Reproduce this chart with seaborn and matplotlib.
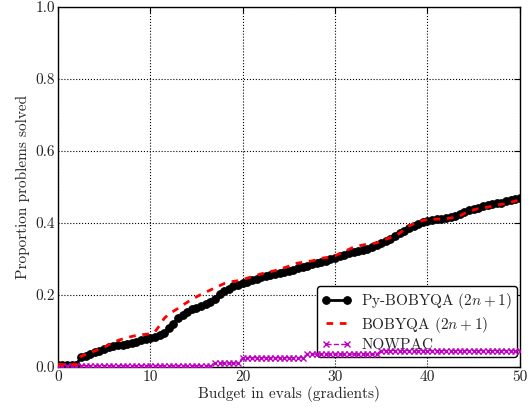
import numpy as np
import pandas as pd
import seaborn as sns
import matplotlib
matplotlib.use("Agg")
import matplotlib.pyplot as plt

# budget grid (in evals / gradients)
budget = [i * 0.5 for i in range(101)]

py_bobyqa = [
    0.007, 0.007, 0.007, 0.007, 0.007, 0.028, 0.032, 0.037, 0.042, 0.046,
    0.051, 0.055, 0.058, 0.060, 0.062, 0.065, 0.068, 0.071, 0.074, 0.077,
    0.080, 0.084, 0.089, 0.096, 0.108, 0.120, 0.135, 0.145, 0.153, 0.160,
    0.165, 0.170, 0.176, 0.182, 0.190, 0.203, 0.212, 0.218, 0.224, 0.229,
    0.233, 0.237, 0.242, 0.246, 0.250, 0.253, 0.256, 0.259, 0.262, 0.265,
    0.267, 0.271, 0.275, 0.279, 0.282, 0.285, 0.288, 0.291, 0.295, 0.299,
    0.304, 0.308, 0.312, 0.316, 0.319, 0.322, 0.325, 0.329, 0.334, 0.339,
    0.345, 0.351, 0.357, 0.364, 0.371, 0.378, 0.385, 0.393, 0.398, 0.402,
    0.405, 0.408, 0.410, 0.412, 0.414, 0.417, 0.420, 0.424, 0.430, 0.436,
    0.440, 0.443, 0.447, 0.450, 0.453, 0.455, 0.457, 0.460, 0.463, 0.467,
    0.469,
]

bobyqa = [
    0.007, 0.007, 0.007, 0.007, 0.007, 0.030, 0.035, 0.040, 0.045, 0.050,
    0.055, 0.062, 0.068, 0.074, 0.078, 0.082, 0.085, 0.088, 0.090, 0.091,
    0.093, 0.098, 0.115, 0.135, 0.147, 0.155, 0.163, 0.172, 0.180, 0.188,
    0.195, 0.202, 0.208, 0.214, 0.220, 0.226, 0.232, 0.235, 0.238, 0.240,
    0.243, 0.247, 0.251, 0.255, 0.259, 0.262, 0.265, 0.268, 0.272, 0.276,
    0.280, 0.286, 0.289, 0.291, 0.293, 0.295, 0.298, 0.302, 0.304, 0.306,
    0.309, 0.315, 0.321, 0.327, 0.333, 0.336, 0.339, 0.341, 0.343, 0.345,
    0.350, 0.355, 0.360, 0.365, 0.372, 0.382, 0.392, 0.398, 0.403, 0.407,
    0.410, 0.411, 0.411, 0.411, 0.412, 0.414, 0.416, 0.420, 0.427, 0.433,
    0.437, 0.440, 0.442, 0.444, 0.447, 0.450, 0.452, 0.454, 0.458, 0.461,
    0.464,
]

nowpac = [
    0.004, 0.004, 0.004, 0.004, 0.004, 0.004, 0.004, 0.004, 0.004, 0.004,
    0.004, 0.004, 0.004, 0.004, 0.004, 0.004, 0.004, 0.004, 0.004, 0.004,
    0.004, 0.004, 0.004, 0.004, 0.004, 0.004, 0.004, 0.004, 0.004, 0.004,
    0.004, 0.004, 0.004, 0.004, 0.011, 0.011, 0.011, 0.011, 0.011, 0.011,
    0.026, 0.026, 0.026, 0.026, 0.026, 0.026, 0.026, 0.026, 0.026, 0.026,
    0.026, 0.026, 0.026, 0.026, 0.036, 0.036, 0.036, 0.036, 0.036, 0.036,
    0.036, 0.036, 0.036, 0.036, 0.036, 0.036, 0.036, 0.036, 0.036, 0.036,
    0.046, 0.046, 0.046, 0.046, 0.046, 0.046, 0.046, 0.046, 0.046, 0.046,
    0.046, 0.046, 0.046, 0.046, 0.046, 0.046, 0.046, 0.046, 0.046, 0.046,
    0.046, 0.046, 0.046, 0.046, 0.046, 0.046, 0.046, 0.046, 0.046, 0.046,
    0.046,
]

x_ticks = [0, 10, 20, 30, 40, 50]
y_ticks = [0.0, 0.2, 0.4, 0.6, 0.8, 1.0]

sns.set_style("white")
plt.rcParams["font.family"] = ["cmr10", "DejaVu Serif"]
plt.rcParams["mathtext.fontset"] = "cm"
plt.rcParams["axes.formatter.use_mathtext"] = True
plt.rcParams["axes.unicode_minus"] = False

df = pd.DataFrame({"budget": budget, "py": py_bobyqa, "bq": bobyqa, "nw": nowpac})

fig = plt.figure(figsize=(5.31, 4.12), dpi=100)
ax = fig.add_axes([0.109, 0.109, 0.870, 0.874])

sns.lineplot(data=df, x="budget", y="py", ax=ax, color="black", linewidth=2,
             marker="o", markersize=5.5, markeredgecolor="black",
             label=r"Py-BOBYQA $(2n+1)$", zorder=3)
sns.lineplot(data=df, x="budget", y="bq", ax=ax, color="red", linewidth=2,
             linestyle=(0, (2.4, 2.4)), label=r"BOBYQA $(2n+1)$", zorder=4)
sns.lineplot(data=df, x="budget", y="nw", ax=ax, color="m", linewidth=1,
             linestyle="--", marker="x", markersize=4.5, markeredgewidth=1,
             markeredgecolor="m", label="NOWPAC", zorder=3)

ax.set_xlim(0, 50)
ax.set_ylim(0, 1.0)
ax.set_xticks(x_ticks)
ax.set_yticks(y_ticks)
ax.set_xticklabels([str(t) for t in x_ticks])
ax.set_yticklabels([f"{t:.1f}" for t in y_ticks])
ax.tick_params(direction="in", top=True, right=True, length=4, width=0.8,
               labelsize=11, pad=2, colors="black", labelcolor="#222222")
ax.grid(True, color="black", linestyle=":", linewidth=0.8)
for s in ax.spines.values():
    s.set_color("black")
    s.set_linewidth(1)

ax.set_xlabel("Budget in evals (gradients)", fontsize=11, labelpad=2)
ax.set_ylabel("Proportion problems solved", fontsize=11, labelpad=4)

leg = ax.legend(loc="lower right", bbox_to_anchor=(1.0, 0.02), fontsize=11,
                numpoints=2, fancybox=True, framealpha=1, edgecolor="black",
                borderaxespad=0.2, borderpad=0.3, labelspacing=0.25,
                handletextpad=0.6)
leg.get_frame().set_linewidth(1)
leg.set_zorder(2.5)

fig.savefig("out.png", dpi=100)
